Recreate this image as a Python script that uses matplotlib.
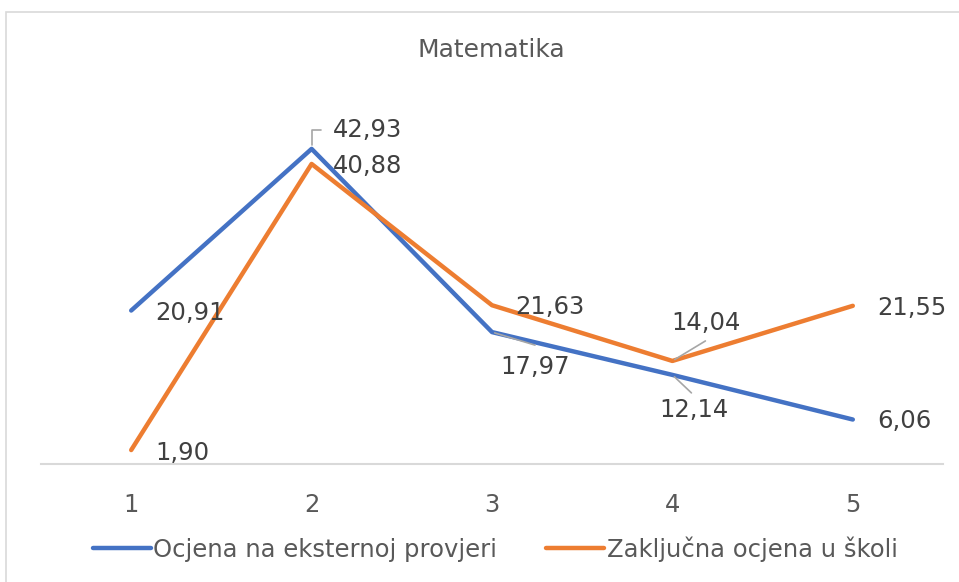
import matplotlib.pyplot as plt
from matplotlib.patches import Rectangle

categories = ["1", "2", "3", "4", "5"]
eksterna = [20.91, 42.93, 17.97, 12.14, 6.06]
skola = [1.90, 40.88, 21.63, 14.04, 21.55]

# label offsets in pixels (dx, dy) relative to each point
off_eks = [(24, -2), (21, 19), (8, -35), (-13, -35), (24, -1)]
off_sko = [(24, -3), (21, -2), (23, -2), (-1, 38), (24, -2)]

blue = "#4472C4"
orange = "#ED7D31"
txt = "#404040"
lead = "#A6A6A6"
fs = 17.5

fig = plt.figure(figsize=(9.59, 5.82), dpi=100)
fig.patches.append(Rectangle((6 / 959, -0.1), 1.1, (582 - 12) / 582 + 0.1,
                             transform=fig.transFigure, fill=False,
                             edgecolor="#D9D9D9", linewidth=1.2))
ax = fig.add_axes([41 / 959, (582 - 464) / 582, (943 - 41) / 959, (464 - 97) / 582])

x = list(range(1, len(categories) + 1))
l1, = ax.plot(x, eksterna, color=blue, lw=3.2, solid_capstyle="round",
              label="Ocjena na eksternoj provjeri", zorder=3)
l2, = ax.plot(x, skola, color=orange, lw=3.2, solid_capstyle="round",
              label="Zaključna ocjena u školi", zorder=3)

ax.set_xlim(0.5, len(categories) + 0.5)
ax.set_ylim(0, 50)
ax.set_xticks(x)
ax.set_xticklabels(categories)
ax.set_yticks([])
ax.tick_params(axis="x", length=0, pad=21, labelsize=fs, labelcolor="#595959")
for s in ["left", "right", "top"]:
    ax.spines[s].set_visible(False)
ax.spines["bottom"].set_color("#D9D9D9")
ax.spines["bottom"].set_linewidth(1.5)


def fmt(v):
    return f"{v:.2f}".replace(".", ",")


for xi, v, (dx, dy) in zip(x, eksterna, off_eks):
    ax.annotate(fmt(v), (xi, v), xytext=(dx, dy), textcoords="offset pixels",
                ha="left", va="center", fontsize=fs, color=txt, zorder=4)
for xi, v, (dx, dy) in zip(x, skola, off_sko):
    ax.annotate(fmt(v), (xi, v), xytext=(dx, dy), textcoords="offset pixels",
                ha="left", va="center", fontsize=fs, color=txt, zorder=4)

# leader lines
ax.annotate("", (x[1], eksterna[1]), xytext=(21, 19), textcoords="offset pixels",
            arrowprops=dict(arrowstyle="-", color=lead, lw=1.2,
                            connectionstyle="angle,angleA=0,angleB=90,rad=0",
                            shrinkA=8, shrinkB=3))
ax.annotate("", (x[2], eksterna[2]), xytext=(43, -13), textcoords="offset pixels",
            arrowprops=dict(arrowstyle="-", color=lead, lw=1.2, shrinkA=0, shrinkB=2))
ax.annotate("", (x[3], skola[3]), xytext=(33, 20), textcoords="offset pixels",
            arrowprops=dict(arrowstyle="-", color=lead, lw=1.2, shrinkA=0, shrinkB=2))
ax.annotate("", (x[3], eksterna[3]), xytext=(19, -18), textcoords="offset pixels",
            arrowprops=dict(arrowstyle="-", color=lead, lw=1.2, shrinkA=0, shrinkB=2))

fig.text(491 / 959, 1 - 50 / 582, "Matematika", ha="center", va="center",
         fontsize=18, color="#595959")

fig.legend(handles=[l1, l2], loc="center", bbox_to_anchor=(495 / 959, 1 - 549 / 582),
           ncol=2, frameon=False, fontsize=fs, labelcolor="#595959",
           handlelength=2.4, handletextpad=0.1, columnspacing=2.0)

fig.savefig("out.png", dpi=100)
